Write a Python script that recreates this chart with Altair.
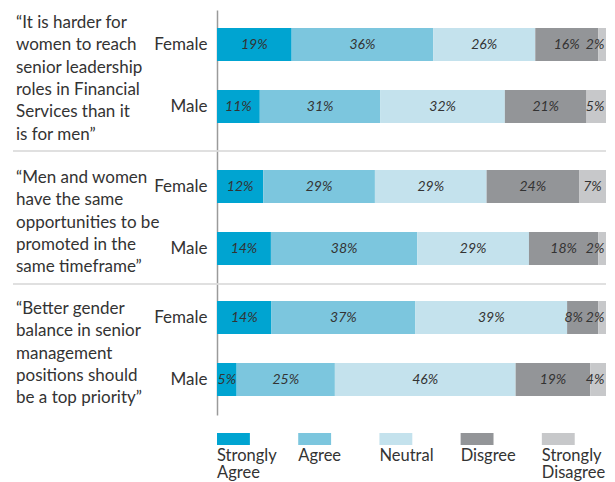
import altair as alt
import pandas as pd

statements = [
    "“It is harder for\nwomen to reach\nsenior leadership\nroles in Financial\nServices than it\nis for men”",
    "“Men and women\nhave the same\nopportunities to be\npromoted in the\nsame timeframe”",
    "“Better gender\nbalance in senior\nmanagement\npositions should\nbe a top priority”",
]
genders = ["Female", "Male"]
categories = ["Strongly Agree", "Agree", "Neutral", "Disgree", "Strongly Disagree"]
legend_labels = ["Strongly\nAgree", "Agree", "Neutral", "Disgree", "Strongly\nDisagree"]
colors = ["#00a4d1", "#7cc6de", "#c4e2ed", "#939598", "#c7c8ca"]
female_values = [[19, 36, 26, 16, 2], [12, 29, 29, 24, 7], [14, 37, 39, 8, 2]]
male_values = [[11, 31, 32, 21, 5], [14, 38, 29, 18, 2], [5, 25, 46, 19, 4]]

FONT = "Lato"
TXT = "#333333"
color_scale = alt.Scale(domain=categories, range=colors)

panel_heights = [140, 132, 131]
bar_tops = [18, 19, 17]
text_baseline = [18, 32, 30]
W = 389


def panel(i):
    H = panel_heights[i]
    rows = []
    for g, vals in (("Female", female_values[i]), ("Male", male_values[i])):
        for k, (c, v) in enumerate(zip(categories, vals)):
            rows.append({"gender": g, "category": c, "order": k, "value": v, "label": f"{v}%"})
    df = pd.DataFrame(rows)
    po = (H - 95) / 124
    al = bar_tops[i] / (H - 95)
    yscale = alt.Scale(domain=genders, paddingInner=29 / 62, paddingOuter=po, align=al)
    yenc = alt.Y(
        "gender:N",
        scale=yscale,
        sort=genders,
        axis=alt.Axis(
            title=None, ticks=False, domain=True, domainColor="#9a9a9a", domainWidth=1.5,
            labelFont=FONT, labelFontSize=17, labelColor=TXT, labelPadding=10,
        ),
    )
    xscale = alt.Scale(domain=[0, 1], nice=False, zero=False)
    base = alt.Chart(df).transform_stack(
        stack="value", groupby=["gender"], as_=["x0", "x1"],
        sort=[alt.SortField("order", order="ascending")], offset="normalize",
    ).transform_calculate(
        mid="datum.order == 4 ? min((datum.x0 + datum.x1) / 2, 0.972) : "
            "((datum.order == 3 && (datum.x0 + datum.x1) / 2 > 0.917) ? 0.917 : (datum.x0 + datum.x1) / 2)"
    )
    bars = base.mark_bar().encode(
        x=alt.X("x0:Q", scale=xscale, axis=None),
        x2="x1:Q",
        y=yenc,
        color=alt.Color("category:N", scale=color_scale, legend=None),
    )
    labels = base.mark_text(font=FONT, fontStyle="italic", fontSize=14, color=TXT).encode(
        x=alt.X("mid:Q", scale=xscale, axis=None),
        y=alt.Y("gender:N", scale=yscale, sort=genders),
        text="label:N",
    )
    stmt = alt.Chart(pd.DataFrame({"s": [statements[i]]})).mark_text(
        align="left", baseline="alphabetic", lineBreak="\n", font=FONT, fontSize=17,
        lineHeight=22.3, color=TXT,
    ).encode(x=alt.value(-201), y=alt.value(text_baseline[i]), text="s:N")
    sep = alt.Chart(pd.DataFrame({"a": [0]})).mark_rule(
        color="#d6d6d6", strokeWidth=1.5, strokeOpacity=(0 if i == 0 else 1)
    ).encode(x=alt.value(-204), x2=alt.value(W), y=alt.value(0))
    return alt.layer(sep, bars, labels, stmt).properties(width=W, height=H).resolve_scale(y="shared")


leg_df = pd.DataFrame({"category": categories, "label": legend_labels, "idx": list(range(5))})
leg_x = alt.Scale(domain=[0, 4.79], nice=False, zero=False)
leg_base = alt.Chart(leg_df).transform_calculate(idx2="datum.idx + 0.405")
swatches = leg_base.mark_rect().encode(
    x=alt.X("idx:Q", scale=leg_x, axis=None),
    x2="idx2:Q",
    y=alt.value(18),
    y2=alt.value(30),
    color=alt.Color("category:N", scale=color_scale, legend=None),
)
leg_text = leg_base.mark_text(
    align="left", baseline="alphabetic", lineBreak="\n", font=FONT, fontSize=16.5,
    lineHeight=17, color=TXT,
).encode(x=alt.X("idx:Q", scale=leg_x, axis=None), y=alt.value(46), text="label:N")
leg_pad = alt.Chart(pd.DataFrame({"a": [0]})).mark_rule(strokeOpacity=0).encode(
    x=alt.value(-204), x2=alt.value(W), y=alt.value(0)
)
legend = alt.layer(leg_pad, swatches, leg_text).properties(width=W, height=62)

chart = alt.vconcat(panel(0), panel(1), panel(2), legend, spacing=0).resolve_scale(
    x="independent", y="independent", color="shared"
).properties(
    padding={"left": 4, "top": 2, "right": 0, "bottom": 0}, background="white"
).configure_view(stroke=None)

chart.save("out.html", embed_options={"renderer": "svg", "actions": False})
